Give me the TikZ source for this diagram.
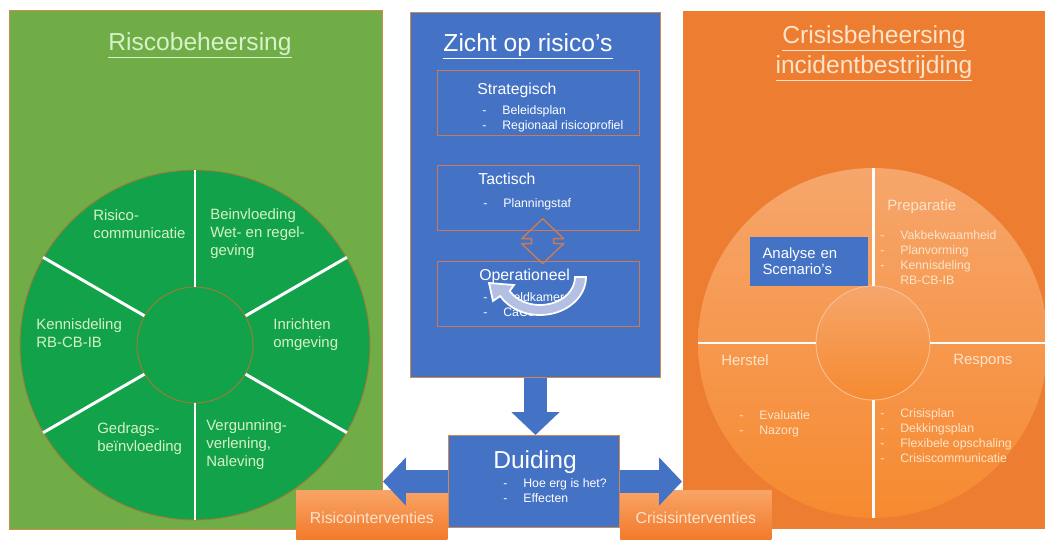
\documentclass[tikz,border=0pt]{standalone}
\usepackage{fontspec}
\setmainfont{Liberation Sans}
\usetikzlibrary{arrows.meta,positioning,calc}

\definecolor{panelgreen}{HTML}{70AD47}
\definecolor{wheelgreen}{HTML}{12A24A}
\definecolor{greenline}{HTML}{A8783A}
\definecolor{greentext}{HTML}{D6F2C8}
\definecolor{officeblue}{HTML}{4472C4}
\definecolor{panelorange}{HTML}{ED7D31}
\definecolor{panelline}{HTML}{D08A50}
\definecolor{boxedge}{HTML}{CC7A55}
\definecolor{wheeltop}{HTML}{F6A66C}
\definecolor{wheelbottom}{HTML}{F68A30}
\definecolor{peach}{HTML}{FDE3CA}
\definecolor{curlfill}{HTML}{B3BFE3}
\definecolor{intertop}{HTML}{F8A466}
\definecolor{interbottom}{HTML}{F27524}

\newcommand{\ditem}[1]{\makebox[0.4cm][l]{-}#1}

\tikzset{
  panel/.style={anchor=north west, inner sep=0pt, line width=0.6pt},
  lvlbox/.style={draw=boxedge, line width=0.8pt, anchor=north west, inner sep=0pt,
    minimum width=4.04cm, minimum height=1.3cm},
  wheel/.style={circle, draw=greenline, line width=0.5pt, inner sep=0pt},
  spoke/.style={white, line width=1.7pt},
  title/.style={anchor=north, inner sep=0pt, align=center, font=\fontsize{14}{17}\selectfont},
  lbl/.style={anchor=north west, inner sep=0pt, align=left, font=\fontsize{8.5}{10.3}\selectfont},
  boxhead/.style={anchor=north west, inner sep=0pt, text=white, font=\fontsize{9}{11}\selectfont},
  small/.style={anchor=north west, inner sep=0pt, align=left, font=\fontsize{7}{8.6}\selectfont},
  interv/.style={anchor=north west, inner sep=0pt, minimum width=3.02cm, minimum height=1.1cm,
    top color=intertop, bottom color=interbottom, text=peach, font=\fontsize{9}{11}\selectfont},
  blockarrow/.style={officeblue, line width=0.46cm, -{Triangle[length=0.46cm, width=0.94cm]}}
}

\begin{document}
\begin{tikzpicture}[x=0.02cm, y=-0.02cm]
\path[use as bounding box, fill=white] (0,0) rectangle (1045,540);

\node[panel, draw=panelline, fill=panelgreen, minimum width=7.46cm, minimum height=10.38cm] (riskpanel) at (9,10) {};
\node[panel, draw=panelline, fill=officeblue, minimum width=5cm, minimum height=7.3cm] (zichtpanel) at (410,12) {};
\node[panel, fill=panelorange, minimum width=7.3cm, minimum height=10.38cm] (crisispanel) at (682,10) {};

\node[title, text=greentext] (risktitle) at (200,32) {\underline{Riscobeheersing}};
\node[title, text=white] (zichttitle) at (528,33) {\underline{Zicht op risico’s}};
\node[title, text=peach] (crisistitle) at (874,25) {\underline{Crisisbeheersing}\\\underline{incidentbestrijding}};

\node[wheel, fill=wheelgreen, minimum size=7cm] (riskwheel) at (195,345) {};
\node[wheel, fill=wheelgreen, minimum size=2.32cm] (riskhub) at (195,345) {};
\foreach \a in {30,90,...,330}
  \draw[spoke] (riskhub.\a) -- (riskwheel.\a);
\node[lbl, text=greentext] (riskcomm) at (93,209) {Risico-\\communicatie};
\node[lbl, text=greentext] (riskwet) at (210,208) {Beinvloeding\\Wet- en regel-\\geving};
\node[lbl, text=greentext] (riskkennis) at (36,318) {Kennisdeling\\RB-CB-IB};
\node[lbl, text=greentext] (riskomgeving) at (273,318) {Inrichten\\omgeving};
\node[lbl, text=greentext] (riskgedrag) at (97,422) {Gedrags-\\beïnvloeding};
\node[lbl, text=greentext] (riskvergunning) at (206,419) {Vergunning-\\verlening,\\Naleving};

\node[lvlbox] (strategisch) at (437,70) {};
\node[lvlbox] (tactisch) at (437,165) {};
\node[lvlbox] (operationeel) at (437,261) {};
\node[boxhead] (strategischlbl) at (477,83) {Strategisch};
\node[small, text=white] (strategischlist) at (482,105) {\ditem{Beleidsplan}\\\ditem{Regionaal risicoprofiel}};
\node[boxhead] (tactischlbl) at (478,173) {Tactisch};
\node[small, text=white] (tactischlist) at (483,198) {\ditem{Planningstaf}};
\node[boxhead] (operationeellbl) at (479,269) {Operationeel};
\node[small, text=white] (operationeellist) at (483,292) {\ditem{Meldkamer}\\\ditem{CaCo}};
\coordinate (tacops) at ($(tactisch.south)!0.5!(operationeel.north)+(4,-5)$);
\draw[boxedge, line width=0.8pt, line join=round] (tacops) ++(0,-22.5) -- ++(21,20) -- ++(-10,0) -- ++(0,5)
  -- ++(10,0) -- ++(-21,20) -- ++(-21,-20) -- ++(10,0) -- ++(0,-5) -- ++(-10,0) -- cycle;
\filldraw[fill=curlfill, draw=white, line width=1pt] (586,277)
  arc[start angle=0, end angle=150, x radius=46, y radius=38] -- (493,301) -- (489,283) -- (514,285)
  -- (509.7,291) arc[start angle=150, end angle=0, x radius=35, y radius=28] -- cycle;

\node[panel, draw=panelline, fill=officeblue, minimum width=3.42cm, minimum height=1.84cm] (duiding) at (448,435) {};
\node[title, text=white] (duidinglbl) at (535,450) {Duiding};
\node[small, text=white] (duidinglist) at (503,478) {\ditem{Hoe erg is het?}\\\ditem{Effecten}};

\node[wheel, draw=none, top color=wheeltop, bottom color=wheelbottom, minimum size=7cm] (crisiswheel) at (873,343) {};
\node[wheel, draw=wheeltop!70!white, top color=wheeltop, bottom color=wheelbottom, minimum size=2.28cm] (crisishub) at (873,343) {};
\foreach \a in {0,90,180,270}
  \draw[spoke] (crisishub.\a) -- (crisiswheel.\a);
\node[lbl, text=peach] (preparatie) at (887,199) {Preparatie};
\node[small, text=peach] (preparatielist) at (880,230) {\ditem{Vakbekwaamheid}\\\ditem{Planvorming}\\\ditem{Kennisdeling}\\\makebox[0.4cm]{}RB-CB-IB};
\node[panel, fill=officeblue, minimum width=2.36cm, minimum height=0.98cm, text width=1.84cm,
  inner xsep=0.26cm, align=left, text=white, font=\fontsize{8.5}{9.5}\selectfont] (analyse) at (749,236) {Analyse en\\Scenario’s};
\node[lbl, text=peach] (herstel) at (721,354) {Herstel};
\node[lbl, text=peach] (respons) at (953,354) {Respons};
\node[small, text=peach] (herstellist) at (739,410) {\ditem{Evaluatie}\\\ditem{Nazorg}};
\node[small, text=peach] (responslist) at (880,408) {\ditem{Crisisplan}\\\ditem{Dekkingsplan}\\\ditem{Flexibele opschaling}\\\ditem{Crisiscommunicatie}};

\node[interv] (risicoint) at (296,490) {Risicointerventies};
\node[interv] (crisisint) at (620,490) {Crisisinterventies};

\draw[blockarrow] (zichtpanel.south) -- (zichtpanel.south |- duiding.north);
\draw[blockarrow] (duiding.west) -- (duiding.west -| riskpanel.east);
\draw[blockarrow] (duiding.east) -- (duiding.east -| crisispanel.west);
\end{tikzpicture}
\end{document}
